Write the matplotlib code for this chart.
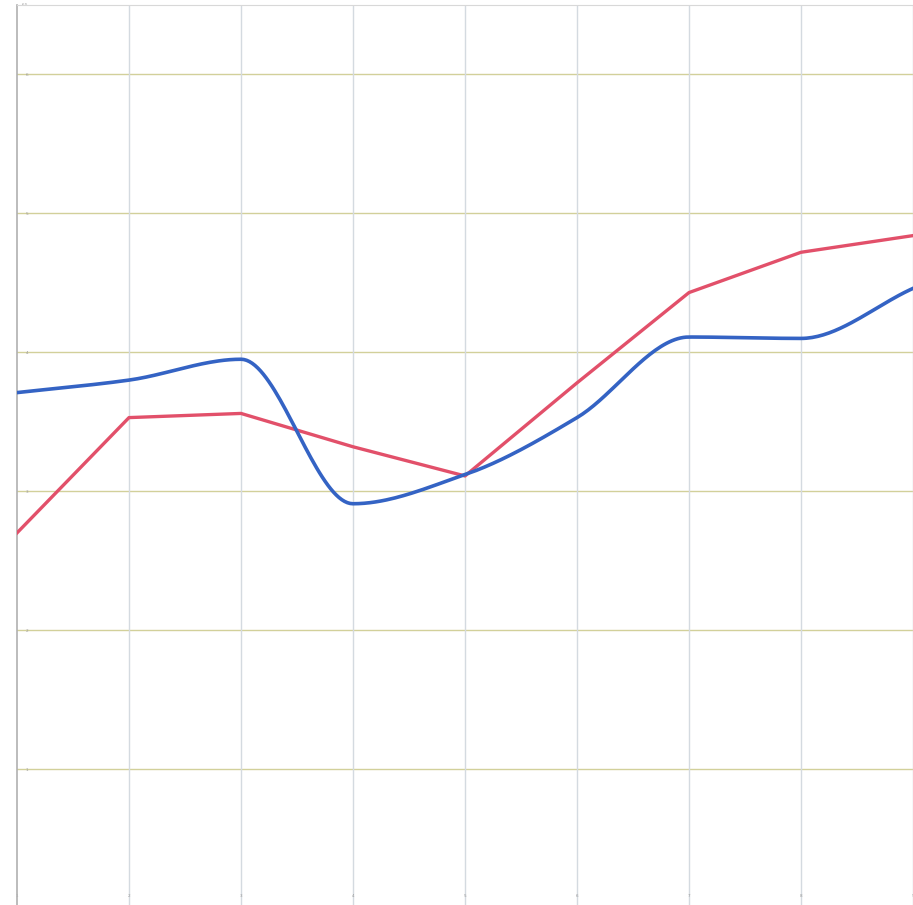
import numpy as np
import matplotlib
matplotlib.use("Agg")
import matplotlib.pyplot as plt

# data
x_labels = ["1", "2", "3", "4", "5", "6", "7", "8", "9"]
red_values = [2.70, 3.53, 3.56, 3.32, 3.11, 3.78, 4.43, 4.72, 4.84]
blue_values = [3.71, 3.80, 3.95, 2.91, 3.12, 3.53, 4.11, 4.10, 4.46]
y_ticks = [1, 2, 3, 4, 5, 6, 6.5]
y_tick_labels = ["1", "2", "3", "4", "5", "6", "6.5"]


def pchip(x, y, n=40):
    x = np.asarray(x, float)
    y = np.asarray(y, float)
    h = np.diff(x)
    d = np.diff(y) / h
    m = np.zeros_like(y)
    for i in range(1, len(y) - 1):
        if d[i - 1] * d[i] <= 0:
            m[i] = 0.0
        else:
            w1 = 2 * h[i] + h[i - 1]
            w2 = h[i] + 2 * h[i - 1]
            m[i] = (w1 + w2) / (w1 / d[i - 1] + w2 / d[i])
    m[0] = d[0]
    m[-1] = d[-1]
    xs, ys = [], []
    for i in range(len(x) - 1):
        t = np.linspace(0, 1, n, endpoint=False)
        h00 = 2 * t**3 - 3 * t**2 + 1
        h10 = t**3 - 2 * t**2 + t
        h01 = -2 * t**3 + 3 * t**2
        h11 = t**3 - t**2
        xs.append(x[i] + t * h[i])
        ys.append(h00 * y[i] + h10 * h[i] * m[i] + h01 * y[i + 1] + h11 * h[i] * m[i + 1])
    xs.append([x[-1]])
    ys.append([y[-1]])
    return np.concatenate(xs), np.concatenate(ys)


W, H = 913, 905
fig = plt.figure(figsize=(W / 100, H / 100), dpi=100)
fig.patch.set_facecolor("white")
ax = fig.add_axes([17 / W, (H - 908) / H, (913 - 17) / W, 903 / H])

xs = np.arange(len(x_labels))
bx, by = pchip(xs, blue_values)
ax.plot(xs, red_values, color="#e2506a", lw=2.4, solid_joinstyle="round", zorder=3)
ax.plot(bx, by, color="#3463c4", lw=2.6, zorder=4)

ax.set_xlim(0, 7.86)
ax.set_ylim(0, 6.5)
ax.set_xticks(xs)
ax.set_xticklabels(x_labels)
ax.set_yticks(y_ticks)
ax.set_yticklabels(y_tick_labels)
ax.tick_params(axis="both", labelsize=3, colors="#999999", length=0)
ax.tick_params(axis="y", pad=-8)
ax.tick_params(axis="x", pad=-10)

for yv in y_ticks[:-1]:
    ax.axhline(yv, color="#d2d09a", lw=1.0, zorder=1)
for xv in xs[1:]:
    ax.axvline(xv, color="#d4dae0", lw=1.0, zorder=1)

for s in ["right", "bottom"]:
    ax.spines[s].set_visible(False)
ax.spines["top"].set_color("#d8d8d8")
ax.spines["top"].set_linewidth(0.8)
ax.spines["left"].set_color("#b0b0b0")
ax.spines["left"].set_linewidth(1.2)

fig.savefig("out.png", dpi=100, facecolor="white")
